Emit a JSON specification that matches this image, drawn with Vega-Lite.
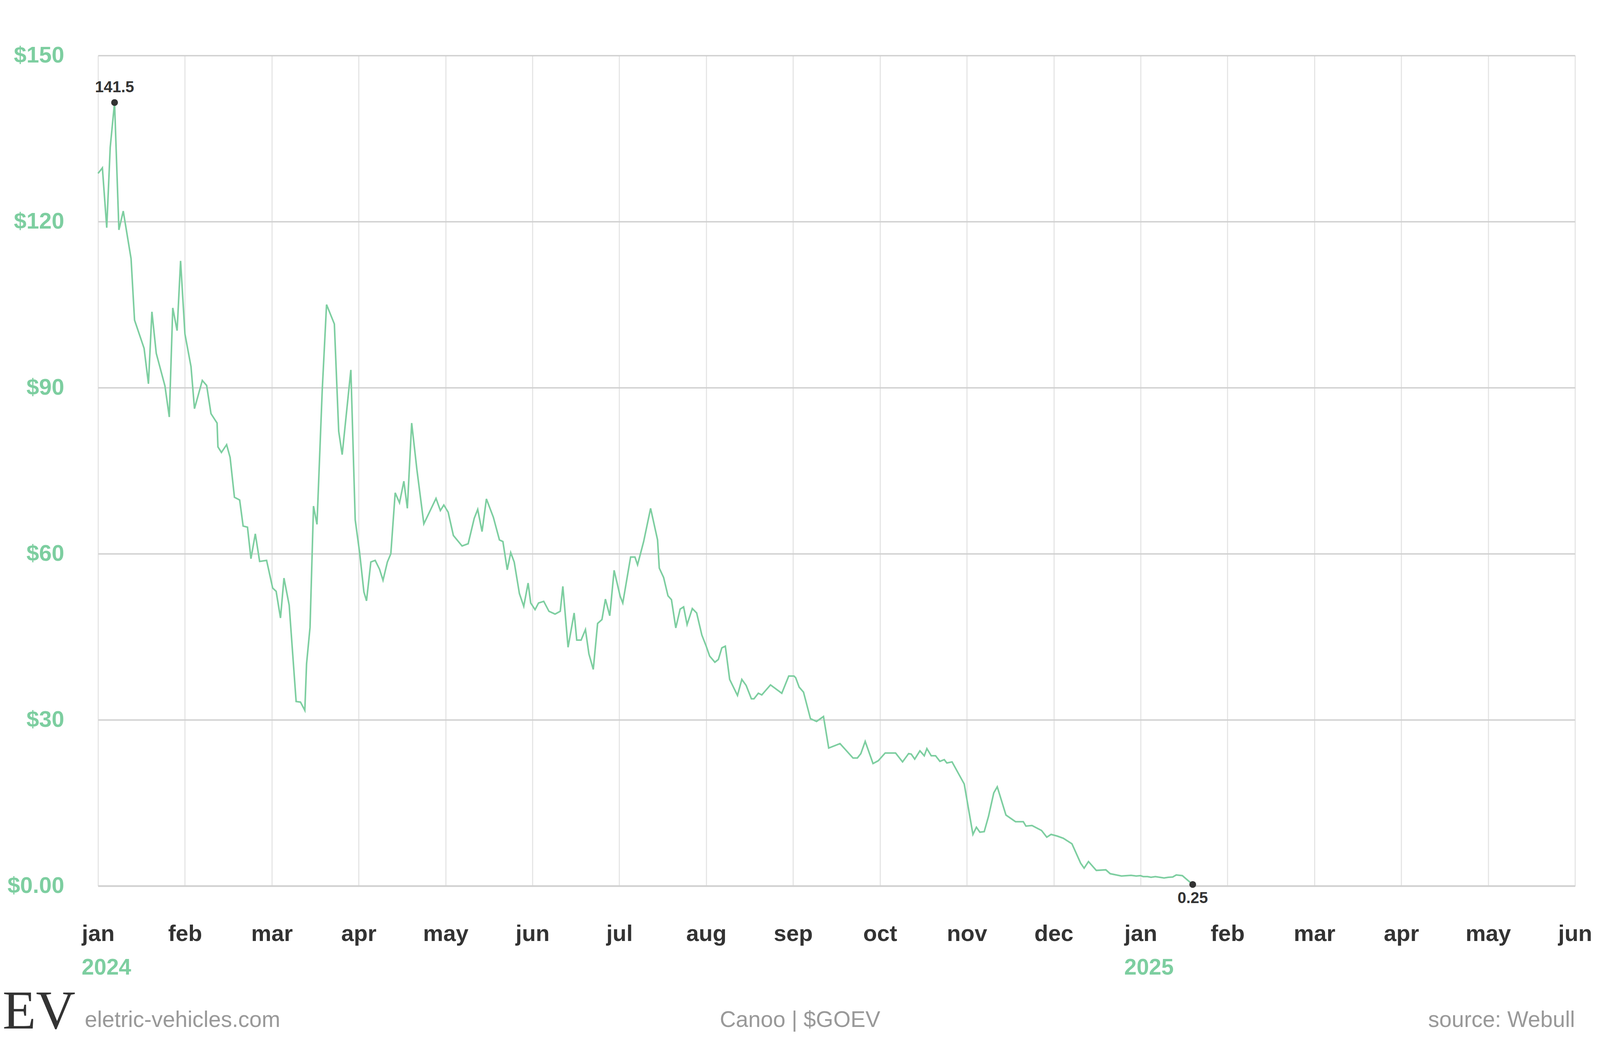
{
  "$schema": "https://vega.github.io/schema/vega-lite/v6.json",
  "width": 3781,
  "height": 2125,
  "autosize": {"type": "none"},
  "padding": {"left": 251, "top": 142, "right": 64, "bottom": 443},
  "background": "#ffffff",
  "datasets": {
    "price": [
      {"m": 0.00, "price": 128.7}, {"m": 0.05, "price": 129.7}, {"m": 0.10, "price": 118.9}, {"m": 0.14, "price": 133.4},
      {"m": 0.19, "price": 141.5}, {"m": 0.24, "price": 118.5}, {"m": 0.29, "price": 121.9}, {"m": 0.38, "price": 113.3},
      {"m": 0.42, "price": 102.2}, {"m": 0.53, "price": 97.1}, {"m": 0.58, "price": 90.7}, {"m": 0.62, "price": 103.7},
      {"m": 0.67, "price": 96.2}, {"m": 0.77, "price": 90.3}, {"m": 0.82, "price": 84.7}, {"m": 0.86, "price": 104.4},
      {"m": 0.91, "price": 100.3}, {"m": 0.95, "price": 112.9}, {"m": 1.00, "price": 99.7}, {"m": 1.07, "price": 93.8},
      {"m": 1.11, "price": 86.2}, {"m": 1.20, "price": 91.3}, {"m": 1.25, "price": 90.4}, {"m": 1.30, "price": 85.3},
      {"m": 1.37, "price": 83.6}, {"m": 1.38, "price": 79.3}, {"m": 1.42, "price": 78.3}, {"m": 1.48, "price": 79.7},
      {"m": 1.52, "price": 77.4}, {"m": 1.57, "price": 70.2}, {"m": 1.63, "price": 69.7}, {"m": 1.67, "price": 65.0},
      {"m": 1.72, "price": 64.8}, {"m": 1.76, "price": 59.1}, {"m": 1.81, "price": 63.6}, {"m": 1.86, "price": 58.6},
      {"m": 1.94, "price": 58.8}, {"m": 2.01, "price": 53.8}, {"m": 2.05, "price": 53.2}, {"m": 2.10, "price": 48.4},
      {"m": 2.14, "price": 55.6}, {"m": 2.20, "price": 50.7}, {"m": 2.28, "price": 33.3}, {"m": 2.33, "price": 33.2},
      {"m": 2.38, "price": 31.7}, {"m": 2.40, "price": 40.1}, {"m": 2.44, "price": 46.7}, {"m": 2.48, "price": 68.6},
      {"m": 2.52, "price": 65.3}, {"m": 2.58, "price": 89.4}, {"m": 2.63, "price": 105.0}, {"m": 2.72, "price": 101.5},
      {"m": 2.77, "price": 82.1}, {"m": 2.81, "price": 77.9}, {"m": 2.91, "price": 93.2}, {"m": 2.96, "price": 66.1},
      {"m": 3.01, "price": 60.3}, {"m": 3.06, "price": 53.1}, {"m": 3.09, "price": 51.5}, {"m": 3.14, "price": 58.5},
      {"m": 3.19, "price": 58.8}, {"m": 3.24, "price": 57.2}, {"m": 3.28, "price": 55.2}, {"m": 3.33, "price": 58.5},
      {"m": 3.37, "price": 60.0}, {"m": 3.42, "price": 71.0}, {"m": 3.47, "price": 69.2}, {"m": 3.52, "price": 73.1},
      {"m": 3.56, "price": 68.2}, {"m": 3.61, "price": 83.6}, {"m": 3.67, "price": 75.2}, {"m": 3.75, "price": 65.4},
      {"m": 3.89, "price": 70.0}, {"m": 3.94, "price": 67.8}, {"m": 3.98, "price": 68.8}, {"m": 4.03, "price": 67.5},
      {"m": 4.09, "price": 63.3}, {"m": 4.19, "price": 61.4}, {"m": 4.26, "price": 61.8}, {"m": 4.33, "price": 66.4},
      {"m": 4.37, "price": 68.0}, {"m": 4.42, "price": 64.0}, {"m": 4.47, "price": 69.9}, {"m": 4.55, "price": 66.6},
      {"m": 4.62, "price": 62.5}, {"m": 4.66, "price": 62.2}, {"m": 4.71, "price": 57.1}, {"m": 4.75, "price": 60.2},
      {"m": 4.79, "price": 58.5}, {"m": 4.85, "price": 52.8}, {"m": 4.90, "price": 50.5}, {"m": 4.95, "price": 54.7},
      {"m": 4.98, "price": 51.1}, {"m": 5.03, "price": 49.9}, {"m": 5.07, "price": 51.1}, {"m": 5.13, "price": 51.4},
      {"m": 5.19, "price": 49.6}, {"m": 5.26, "price": 49.1}, {"m": 5.32, "price": 49.6}, {"m": 5.35, "price": 54.1},
      {"m": 5.41, "price": 43.1}, {"m": 5.48, "price": 49.3}, {"m": 5.51, "price": 44.4}, {"m": 5.56, "price": 44.4},
      {"m": 5.61, "price": 46.3}, {"m": 5.65, "price": 41.9}, {"m": 5.70, "price": 39.1}, {"m": 5.75, "price": 47.4},
      {"m": 5.80, "price": 48.1}, {"m": 5.84, "price": 51.8}, {"m": 5.89, "price": 48.8}, {"m": 5.94, "price": 57.0},
      {"m": 6.01, "price": 52.3}, {"m": 6.04, "price": 51.1}, {"m": 6.13, "price": 59.4}, {"m": 6.18, "price": 59.4},
      {"m": 6.21, "price": 58.0}, {"m": 6.28, "price": 62.2}, {"m": 6.36, "price": 68.2}, {"m": 6.44, "price": 62.5},
      {"m": 6.46, "price": 57.4}, {"m": 6.51, "price": 55.7}, {"m": 6.56, "price": 52.4}, {"m": 6.60, "price": 51.7},
      {"m": 6.65, "price": 46.6}, {"m": 6.70, "price": 50.0}, {"m": 6.74, "price": 50.4}, {"m": 6.78, "price": 47.2},
      {"m": 6.84, "price": 50.1}, {"m": 6.89, "price": 49.3}, {"m": 6.95, "price": 45.3}, {"m": 7.00, "price": 43.3},
      {"m": 7.04, "price": 41.5}, {"m": 7.10, "price": 40.4}, {"m": 7.14, "price": 40.9}, {"m": 7.18, "price": 43.0},
      {"m": 7.22, "price": 43.3}, {"m": 7.27, "price": 37.3}, {"m": 7.36, "price": 34.4}, {"m": 7.41, "price": 37.3},
      {"m": 7.46, "price": 36.2}, {"m": 7.52, "price": 33.8}, {"m": 7.55, "price": 33.8}, {"m": 7.60, "price": 34.8},
      {"m": 7.64, "price": 34.5}, {"m": 7.74, "price": 36.3}, {"m": 7.87, "price": 34.8}, {"m": 7.95, "price": 37.9},
      {"m": 8.01, "price": 37.9}, {"m": 8.03, "price": 37.6}, {"m": 8.07, "price": 35.9}, {"m": 8.12, "price": 35.0},
      {"m": 8.20, "price": 30.2}, {"m": 8.27, "price": 29.7}, {"m": 8.35, "price": 30.6}, {"m": 8.41, "price": 24.9},
      {"m": 8.54, "price": 25.7}, {"m": 8.69, "price": 23.1}, {"m": 8.74, "price": 23.1}, {"m": 8.78, "price": 23.9},
      {"m": 8.83, "price": 26.1}, {"m": 8.92, "price": 22.1}, {"m": 8.98, "price": 22.6}, {"m": 9.06, "price": 24.0},
      {"m": 9.18, "price": 24.0}, {"m": 9.26, "price": 22.4}, {"m": 9.33, "price": 23.9}, {"m": 9.36, "price": 23.8},
      {"m": 9.40, "price": 22.9}, {"m": 9.46, "price": 24.4}, {"m": 9.51, "price": 23.5}, {"m": 9.54, "price": 24.8},
      {"m": 9.59, "price": 23.5}, {"m": 9.64, "price": 23.5}, {"m": 9.69, "price": 22.5}, {"m": 9.74, "price": 22.8},
      {"m": 9.77, "price": 22.2}, {"m": 9.83, "price": 22.4}, {"m": 9.97, "price": 18.4}, {"m": 10.07, "price": 9.3},
      {"m": 10.11, "price": 10.6}, {"m": 10.15, "price": 9.7}, {"m": 10.20, "price": 9.8}, {"m": 10.25, "price": 12.6},
      {"m": 10.31, "price": 16.8}, {"m": 10.35, "price": 17.9}, {"m": 10.45, "price": 12.8}, {"m": 10.56, "price": 11.6},
      {"m": 10.65, "price": 11.6}, {"m": 10.68, "price": 10.8}, {"m": 10.75, "price": 10.9}, {"m": 10.86, "price": 10.0},
      {"m": 10.92, "price": 8.8}, {"m": 10.97, "price": 9.3}, {"m": 11.04, "price": 9.0}, {"m": 11.11, "price": 8.6},
      {"m": 11.21, "price": 7.6}, {"m": 11.31, "price": 4.1}, {"m": 11.35, "price": 3.2}, {"m": 11.40, "price": 4.4},
      {"m": 11.49, "price": 2.8}, {"m": 11.60, "price": 2.9}, {"m": 11.65, "price": 2.2}, {"m": 11.78, "price": 1.78},
      {"m": 11.89, "price": 1.9}, {"m": 11.95, "price": 1.78}, {"m": 12.00, "price": 1.85}, {"m": 12.03, "price": 1.67},
      {"m": 12.08, "price": 1.67}, {"m": 12.12, "price": 1.55}, {"m": 12.17, "price": 1.67}, {"m": 12.27, "price": 1.43},
      {"m": 12.32, "price": 1.55}, {"m": 12.37, "price": 1.6}, {"m": 12.41, "price": 1.98}, {"m": 12.48, "price": 1.86},
      {"m": 12.60, "price": 0.25}
    ],
    "high": [{"m": 0.19, "price": 141.5, "label": "141.5"}],
    "low": [{"m": 12.60, "price": 0.25, "label": "0.25"}],
    "years": [{"m": 0, "label": "2024"}, {"m": 12, "label": "2025"}],
    "footLeft": [{"m": -0.153, "label": "eletric-vehicles.com"}],
    "footMid": [{"m": 8.08, "label": "Canoo | $GOEV"}],
    "footRight": [{"m": 17, "label": "source: Webull"}],
    "logo": [{"m": -0.68, "label": "EV"}]
  },
  "layer": [
    {
      "data": {"name": "price"},
      "mark": {"type": "line", "color": "#7dcea0", "strokeWidth": 4},
      "encoding": {
        "x": {
          "field": "m",
          "type": "quantitative",
          "scale": {"domain": [0, 17], "nice": false, "zero": false},
          "axis": {
            "title": null,
            "values": [0, 1, 2, 3, 4, 5, 6, 7, 8, 9, 10, 11, 12, 13, 14, 15, 16, 17],
            "labelExpr": "['jan','feb','mar','apr','may','jun','jul','aug','sep','oct','nov','dec'][datum.value % 12]",
            "grid": true,
            "gridColor": "#e6e6e6",
            "gridWidth": 3,
            "domainColor": "#d0d0d0",
            "domainWidth": 4,
            "ticks": false,
            "tickSize": 0,
            "labelFont": "Liberation Sans",
            "labelFontSize": 58,
            "labelFontWeight": "bold",
            "labelColor": "#333333",
            "labelPadding": 140,
            "labelBaseline": "alphabetic",
            "labelFlush": false,
            "labelOverlap": false,
            "labelBound": false
          }
        },
        "y": {
          "field": "price",
          "type": "quantitative",
          "scale": {"domain": [0, 150], "nice": false},
          "axis": {
            "title": null,
            "values": [0, 30, 60, 90, 120, 150],
            "labelExpr": "datum.value == 0 ? '$0.00' : '$' + datum.value",
            "grid": true,
            "gridColor": "#d0d0d0",
            "gridWidth": 3.5,
            "domain": false,
            "ticks": false,
            "tickSize": 0,
            "labelFont": "Liberation Sans",
            "labelFontSize": 58,
            "labelFontWeight": "bold",
            "labelColor": "#7dcea0",
            "labelPadding": 87,
            "labelOverlap": false,
            "labelFlush": false,
            "labelBound": false
          }
        }
      }
    },
    {
      "data": {"name": "high"},
      "mark": {"type": "point", "filled": true, "color": "#333333", "opacity": 1, "size": 300},
      "encoding": {"x": {"field": "m", "type": "quantitative"}, "y": {"field": "price", "type": "quantitative"}}
    },
    {
      "data": {"name": "high"},
      "mark": {"type": "text", "font": "Liberation Sans", "fontSize": 40, "fontWeight": "bold", "color": "#333333", "baseline": "alphabetic", "dy": -26},
      "encoding": {"x": {"field": "m", "type": "quantitative"}, "y": {"field": "price", "type": "quantitative"}, "text": {"field": "label"}}
    },
    {
      "data": {"name": "low"},
      "mark": {"type": "point", "filled": true, "color": "#333333", "opacity": 1, "size": 300},
      "encoding": {"x": {"field": "m", "type": "quantitative"}, "y": {"field": "price", "type": "quantitative"}}
    },
    {
      "data": {"name": "low"},
      "mark": {"type": "text", "font": "Liberation Sans", "fontSize": 40, "fontWeight": "bold", "color": "#333333", "baseline": "alphabetic", "dy": 48},
      "encoding": {"x": {"field": "m", "type": "quantitative"}, "y": {"field": "price", "type": "quantitative"}, "text": {"field": "label"}}
    },
    {
      "data": {"name": "years"},
      "mark": {"type": "text", "font": "Liberation Sans", "fontSize": 57, "fontWeight": "bold", "color": "#7dcea0", "align": "left", "baseline": "alphabetic", "dx": -42, "dy": 227},
      "encoding": {"x": {"field": "m", "type": "quantitative"}, "y": {"datum": 0}, "text": {"field": "label"}}
    },
    {
      "data": {"name": "footLeft"},
      "mark": {"type": "text", "font": "Liberation Sans", "fontSize": 57, "color": "#999999", "align": "left", "baseline": "alphabetic", "dy": 361},
      "encoding": {"x": {"field": "m", "type": "quantitative"}, "y": {"datum": 0}, "text": {"field": "label"}}
    },
    {
      "data": {"name": "footMid"},
      "mark": {"type": "text", "font": "Liberation Sans", "fontSize": 57, "color": "#999999", "align": "center", "baseline": "alphabetic", "dy": 361},
      "encoding": {"x": {"field": "m", "type": "quantitative"}, "y": {"datum": 0}, "text": {"field": "label"}}
    },
    {
      "data": {"name": "footRight"},
      "mark": {"type": "text", "font": "Liberation Sans", "fontSize": 57, "color": "#999999", "align": "right", "baseline": "alphabetic", "dy": 361},
      "encoding": {"x": {"field": "m", "type": "quantitative"}, "y": {"datum": 0}, "text": {"field": "label"}}
    },
    {
      "data": {"name": "logo"},
      "mark": {"type": "text", "font": "Liberation Serif", "fontSize": 140, "color": "#333333", "align": "center", "baseline": "alphabetic", "dy": 365},
      "encoding": {"x": {"field": "m", "type": "quantitative"}, "y": {"datum": 0}, "text": {"field": "label"}}
    }
  ],
  "config": {
    "view": {"stroke": null}
  }
}
